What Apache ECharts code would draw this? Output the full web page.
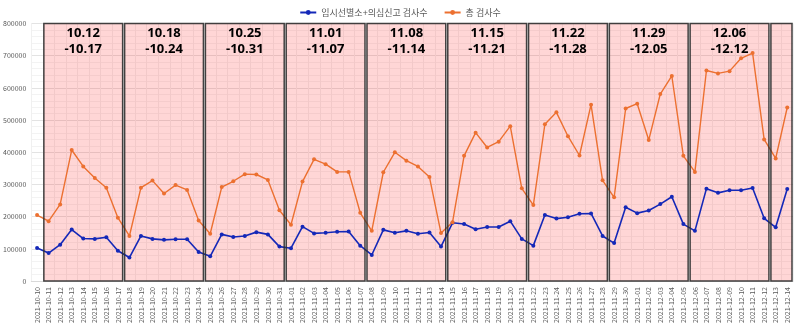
<!DOCTYPE html>
<html>
<head>
<meta charset="utf-8">
<script src="https://cdn.jsdelivr.net/npm/echarts@6/dist/echarts.min.js"></script>
<style>html,body{margin:0;padding:0;background:#fff;}#c{width:800px;height:326px;}</style>
</head>
<body>
<div id="c"></div>
<script>
const dates = [
 '2021-10-10','2021-10-11','2021-10-12','2021-10-13','2021-10-14','2021-10-15','2021-10-16','2021-10-17',
 '2021-10-18','2021-10-19','2021-10-20','2021-10-21','2021-10-22','2021-10-23','2021-10-24',
 '2021-10-25','2021-10-26','2021-10-27','2021-10-28','2021-10-29','2021-10-30','2021-10-31',
 '2021-11-01','2021-11-02','2021-11-03','2021-11-04','2021-11-05','2021-11-06','2021-11-07',
 '2021-11-08','2021-11-09','2021-11-10','2021-11-11','2021-11-12','2021-11-13','2021-11-14',
 '2021-11-15','2021-11-16','2021-11-17','2021-11-18','2021-11-19','2021-11-20','2021-11-21',
 '2021-11-22','2021-11-23','2021-11-24','2021-11-25','2021-11-26','2021-11-27','2021-11-28',
 '2021-11-29','2021-11-30','2021-12-01','2021-12-02','2021-12-03','2021-12-04','2021-12-05',
 '2021-12-06','2021-12-07','2021-12-08','2021-12-09','2021-12-10','2021-12-11','2021-12-12',
 '2021-12-13','2021-12-14'
];
const screeningTests = [
 103000,87000,113000,160000,132000,131000,136000,94000,
 73000,140000,131000,128000,130000,130000,90000,
 77000,145000,137000,140000,152000,145000,107000,
 102000,169000,148000,150000,153000,154000,110000,
 81000,159000,150000,156000,147000,151000,107000,
 181000,177000,161000,168000,168000,186000,131000,
 110000,205000,194000,198000,209000,210000,140000,
 118000,229000,211000,219000,239000,262000,177000,
 156000,287000,274000,282000,282000,289000,195000,
 167000,286000
];
const totalTests = [
 205000,186000,238000,407000,356000,320000,290000,197000,
 140000,290000,312000,272000,298000,283000,188000,
 147000,292000,310000,332000,331000,314000,220000,
 175000,309000,378000,363000,339000,339000,212000,
 156000,338000,400000,374000,356000,323000,149000,
 183000,389000,461000,415000,433000,481000,288000,
 236000,487000,524000,450000,390000,548000,313000,
 260000,536000,551000,438000,581000,637000,389000,
 339000,654000,645000,652000,692000,708000,440000,
 381000,539000
];
const weekStart = ['2021-10-11','2021-10-18','2021-10-25','2021-11-01','2021-11-08','2021-11-15','2021-11-22','2021-11-29','2021-12-06','2021-12-13'];
const weekEnd   = ['2021-10-17','2021-10-24','2021-10-31','2021-11-07','2021-11-14','2021-11-21','2021-11-28','2021-12-05','2021-12-12','2021-12-14'];
const weekLabels = ['10.12\n-10.17','10.18\n-10.24','10.25\n-10.31','11.01\n-11.07','11.08\n-11.14','11.15\n-11.21','11.22\n-11.28','11.29\n-12.05','12.06\n-12.12',''];
const seriesNames = ['임시선별소+의심신고 검사수','총 검사수'];
const yMax = 800000;

const boxData = weekStart.map((s, i) => [dates.indexOf(s), dates.indexOf(weekEnd[i])]);

const chart = echarts.init(document.getElementById('c'), null, {renderer: 'canvas'});
const font = "'Noto Sans CJK KR', 'Noto Sans', sans-serif";

function boxRect(api) {
  const s = api.value(0), e = api.value(1);
  const pTop = api.coord([s, yMax]);
  const pBot = api.coord([e, 0]);
  const band = api.size([1, 0])[0];
  const x0 = pTop[0] - band / 2 + 1;
  const x1 = pBot[0] + band / 2 - 1;
  return {x0: x0, x1: x1, y0: pTop[1], y1: pBot[1]};
}
function renderFill(params, api) {
  const r = boxRect(api);
  return {
    type: 'rect',
    shape: {x: r.x0, y: r.y0, width: r.x1 - r.x0, height: r.y1 - r.y0},
    style: {fill: 'rgba(255,0,0,0.16)'}
  };
}
function renderFrame(params, api) {
  const r = boxRect(api);
  const children = [{
    type: 'rect',
    shape: {x: r.x0, y: r.y0, width: r.x1 - r.x0, height: r.y1 - r.y0},
    style: {fill: 'none', stroke: 'rgba(45,45,45,0.9)', lineWidth: 1.5}
  }];
  const label = weekLabels[params.dataIndex];
  if (label) {
    children.push({
      type: 'text',
      style: {
        text: label, x: (r.x0 + r.x1) / 2, y: r.y0 + 2,
        align: 'center', verticalAlign: 'top',
        fill: '#000', fontSize: 13, fontWeight: 'bold', lineHeight: 16,
        fontFamily: "'Open Sans', 'Noto Sans', sans-serif"
      }
    });
  }
  return {type: 'group', children: children};
}

const blue = '#1428B8';
const orange = '#EC7030';

chart.setOption({
  animation: false,
  backgroundColor: '#fff',
  legend: {
    data: seriesNames,
    top: 3, left: 'center',
    itemWidth: 16, itemHeight: 6, itemGap: 16,
    textStyle: {fontSize: 9, color: '#595959', fontFamily: font}
  },
  grid: {left: 29, right: 7, top: 23.5, bottom: 41.5, containLabel: false},
  xAxis: {
    type: 'category',
    data: dates,
    boundaryGap: true,
    axisLine: {show: true, lineStyle: {color: '#d9d9d9'}},
    axisTick: {show: false},
    axisLabel: {rotate: 90, interval: 0, fontSize: 7, color: '#595959', margin: 6, fontFamily: font},
    splitLine: {show: true, interval: 0, lineStyle: {color: '#f0f0f0', width: 1}}
  },
  yAxis: {
    type: 'value',
    min: 0, max: yMax, interval: 100000,
    axisLine: {show: false},
    axisTick: {show: false},
    axisLabel: {fontSize: 7, color: '#595959', margin: 5, fontFamily: font, formatter: v => String(v)},
    splitLine: {show: true, lineStyle: {color: '#e3e3e3', width: 1}},
    minorTick: {show: false, splitNumber: 5},
    minorSplitLine: {show: true, lineStyle: {color: '#f3f3f3', width: 1}}
  },
  series: [
    {
      name: 'weekFill', type: 'custom', data: boxData,
      renderItem: renderFill, silent: true, z: 1,
      encode: {x: [0, 1], y: []}
    },
    {
      name: seriesNames[0], type: 'line', data: screeningTests,
      color: blue,
      symbol: 'circle', symbolSize: 4, showSymbol: true,
      lineStyle: {width: 1.6, color: blue},
      itemStyle: {color: blue}, z: 2
    },
    {
      name: seriesNames[1], type: 'line', data: totalTests,
      color: orange,
      symbol: 'circle', symbolSize: 4, showSymbol: true,
      lineStyle: {width: 1.4, color: orange},
      itemStyle: {color: orange}, z: 2
    },
    {
      name: 'weekFrame', type: 'custom', data: boxData,
      renderItem: renderFrame, silent: true, z: 5,
      encode: {x: [0, 1], y: []}
    }
  ]
});
</script>
</body>
</html>
